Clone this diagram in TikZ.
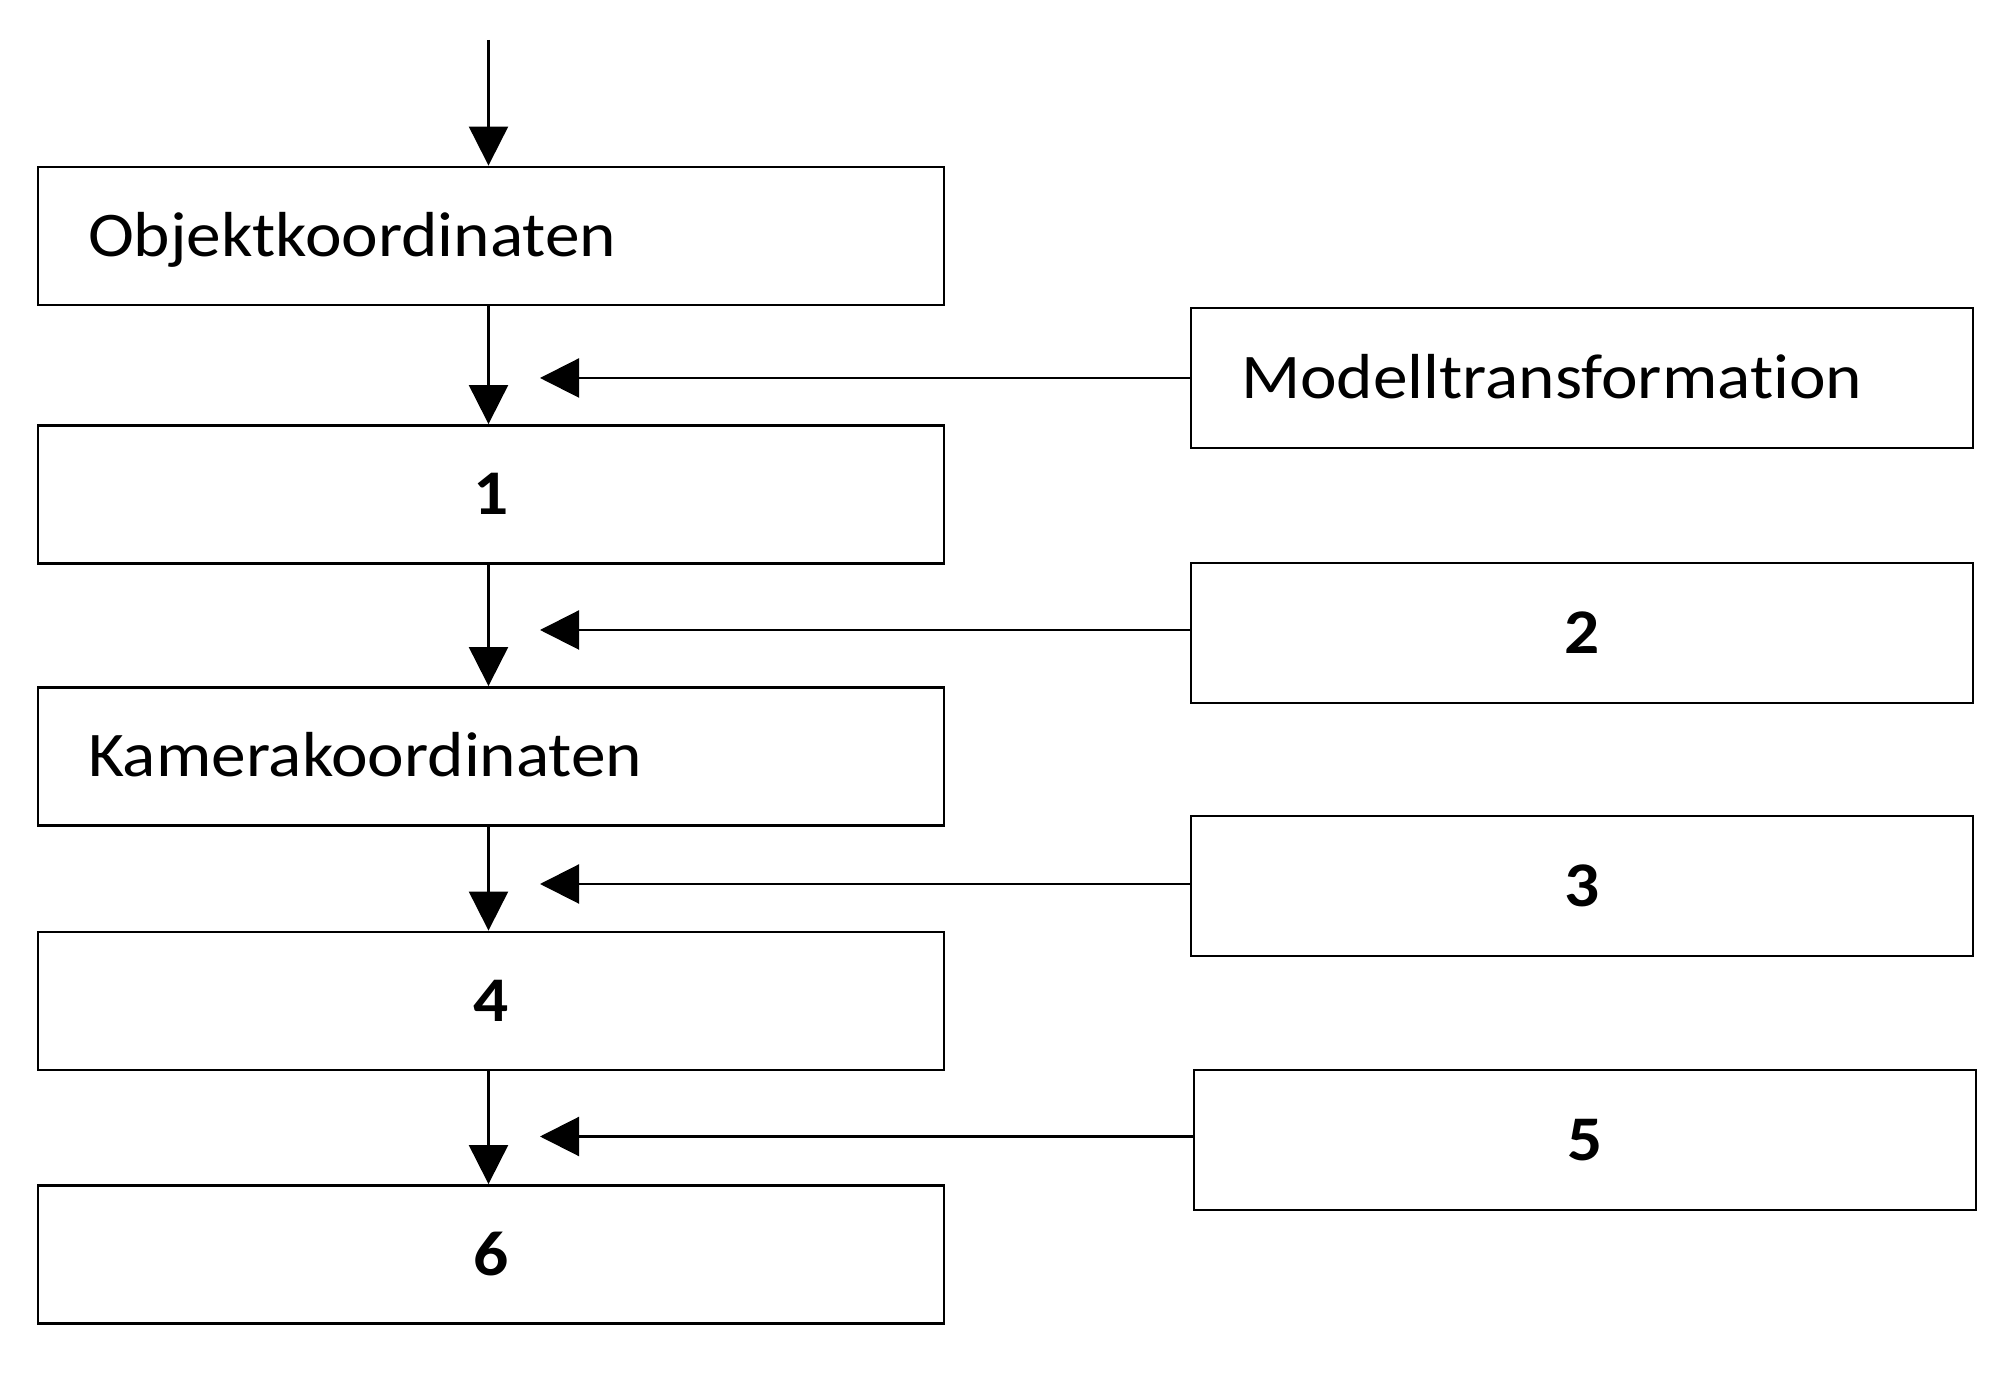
\documentclass[tikz,border=0pt]{standalone}
\usepackage{fontspec}
\setmainfont{Carlito}[FakeStretch=1.09,Ligatures=NoCommon]
\usepackage{tikz}
\usetikzlibrary{
	arrows.meta,
	positioning
	}
\tikzset{font={\fontsize{18.1pt}{22}\selectfont}}
\tikzstyle{kasten-links}=[draw,rectangle,line width=0.8pt,minimum height=1.38cm,text width=8.06cm,inner xsep=0.5cm,inner ysep=0pt,text height=0.41cm,text depth=0pt]
\tikzstyle{kasten-rechts}=[kasten-links,minimum height=1.40cm,text width=6.82cm]
\tikzstyle{pfeil-std}=[line width=0.6pt,-{Triangle[length=3.9mm,width=3.9mm]}]

\begin{document}
\begin{tikzpicture}
            \useasboundingbox (0,0) rectangle (20,-13.81);
            % linke Spalte
            \node[kasten-links, align=left] (objekt) at (4.91,-2.36) {Objektkoordinaten};
            \node[kasten-links, align=center] (n1) at (4.91,-4.945) {\textbf{1}};
            \node[kasten-links, align=left] (kamera) at (4.91,-7.565) {Kamerakoordinaten};
            \node[kasten-links, align=center] (n4) at (4.91,-10.01) {\textbf{4}};
            \node[kasten-links, align=center] (n6) at (4.91,-12.545) {\textbf{6}};
            %
            % rechte Spalte
            \node[kasten-rechts, align=left] (modell) at (15.82,-3.78) {Modelltransformation};
            \node[kasten-rechts, align=center] (n2) at (15.82,-6.33) {\textbf{2}};
            \node[kasten-rechts, align=center] (n3) at (15.82,-8.86) {\textbf{3}};
            \node[kasten-rechts, align=center] (n5) at (15.85,-11.40) {\textbf{5}};
            %
            \coordinate (start) at (4.885,-0.40);
            \coordinate (z1) at (5.40,-3.78);
            \coordinate (z2) at (5.40,-6.30);
            \coordinate (z3) at (5.40,-8.84);
            \coordinate (z5) at (5.40,-11.365);

            \draw[pfeil-std] (start) -- (start |- objekt.north);
            \draw[pfeil-std] (objekt.south -| start) -- (n1.north -| start);
            \draw[pfeil-std] (n1.south -| start) -- (kamera.north -| start);
            \draw[pfeil-std] (kamera.south -| start) -- (n4.north -| start);
            \draw[pfeil-std] (n4.south -| start) -- (n6.north -| start);

            \draw[pfeil-std] (modell.west) -- (z1);
            \draw[pfeil-std] (n2.west |- z2) -- (z2);
            \draw[pfeil-std] (n3.west |- z3) -- (z3);
            \draw[pfeil-std] (n5.west |- z5) -- (z5);
        \end{tikzpicture}
\end{document}
